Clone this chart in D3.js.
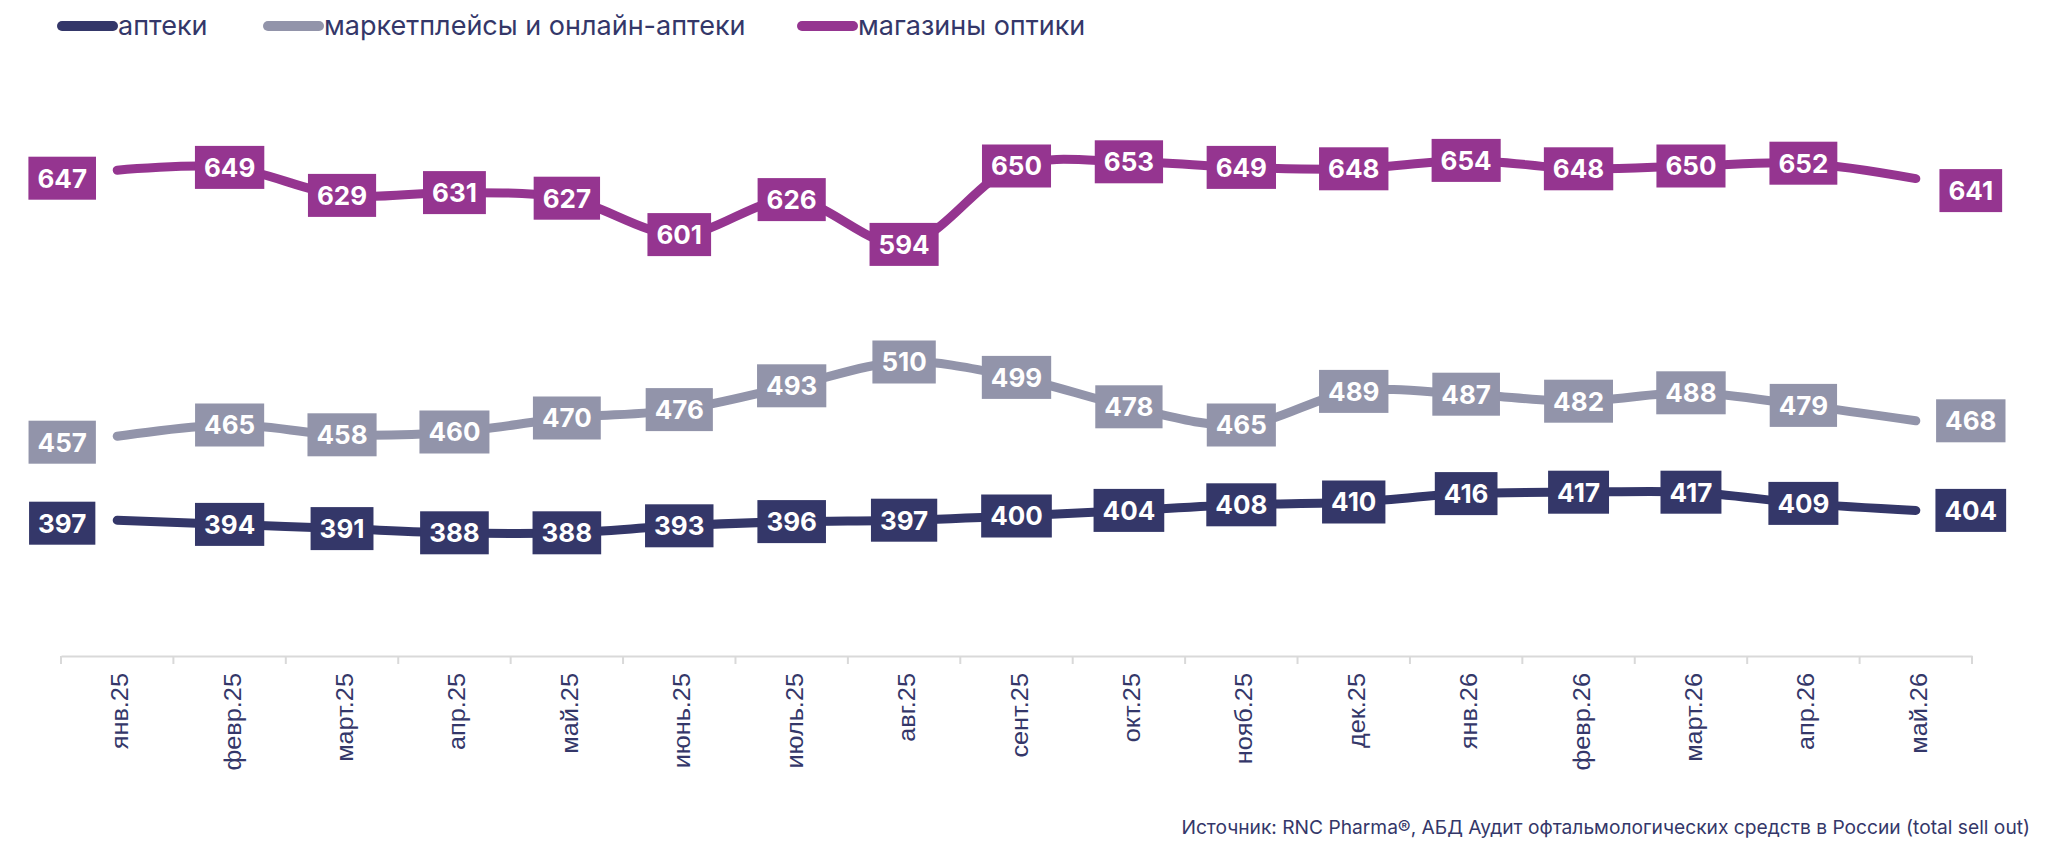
<!DOCTYPE html>
<html>
<head>
<meta charset="utf-8">
<script src="https://cdn.jsdelivr.net/npm/d3@7"></script>
<style>
  body { margin: 0; background: #fff; }
  svg { display: block; }
</style>
</head>
<body>
<svg id="chart"></svg>
<script>
const navy = "#343769";

// Data
const months = ["янв.25", "февр.25", "март.25", "апр.25", "май.25", "июнь.25", "июль.25", "авг.25",
  "сент.25", "окт.25", "нояб.25", "дек.25", "янв.26", "февр.26", "март.26", "апр.26", "май.26"];
const seriesNames = ["аптеки", "маркетплейсы и онлайн-аптеки", "магазины оптики"];
const pharmacies = [397, 394, 391, 388, 388, 393, 396, 397, 400, 404, 408, 410, 416, 417, 417, 409, 404];
const marketplaces = [457, 465, 458, 460, 470, 476, 493, 510, 499, 478, 465, 489, 487, 482, 488, 479, 468];
const optics = [647, 649, 629, 631, 627, 601, 626, 594, 650, 653, 649, 648, 654, 648, 650, 652, 641];
const seriesColors = ["#343769", "#9294aa", "#953590"];
const source = "Источник: RNC Pharma®, АБД Аудит офтальмологических средств в России (total sell out)";

const W = 2048, H = 865;
const plot = { left: 61, right: 1972, top: 96, bottom: 656 };

const svg = d3.select("#chart").attr("width", W).attr("height", H);

const series = [pharmacies, marketplaces, optics].map((values, i) => ({
  name: seriesNames[i], color: seriesColors[i], values
}));

// Scales
const x = d3.scaleBand().domain(months).range([plot.left, plot.right]).padding(0);
const y = d3.scaleLinear().domain([300, 700]).range([plot.bottom, plot.top]);
const cx = m => x(m) + x.bandwidth() / 2;

// X axis
const xAxis = svg.append("g")
  .attr("transform", `translate(0,${plot.bottom})`)
  .call(d3.axisBottom(x).tickSize(0).tickFormat(""));
xAxis.select(".domain").attr("stroke", "#d9d9d9").attr("stroke-width", 2);

// tick marks at band edges
svg.append("g").selectAll("line")
  .data(months.map(m => x(m)).concat([plot.right]))
  .join("line")
  .attr("x1", d => d).attr("x2", d => d)
  .attr("y1", plot.bottom).attr("y2", plot.bottom + 8)
  .attr("stroke", "#d9d9d9").attr("stroke-width", 2);

svg.append("g").selectAll("text")
  .data(months)
  .join("text")
  .attr("transform", d => `translate(${cx(d) + 11},${plot.bottom + 17}) rotate(-90) scale(1.1,1)`)
  .attr("text-anchor", "end")
  .style("font-family", "'Liberation Sans', Arial, sans-serif")
  .style("font-size", "23px")
  .attr("fill", navy)
  .text(d => d);

// Lines
const line = d3.line()
  .x((d, i) => cx(months[i]))
  .y(d => y(d))
  .curve(d3.curveCatmullRom.alpha(0.5));

svg.append("g").selectAll("path")
  .data(series)
  .join("path")
  .attr("d", d => line(d.values))
  .attr("fill", "none")
  .attr("stroke", d => d.color)
  .attr("stroke-width", 9)
  .attr("stroke-linecap", "round")
  .attr("stroke-linejoin", "round");

// Data labels
const last = months.length - 1;
const labelNudge = { "2-16": 12, "2-0": 8, "1-0": 6, "0-0": 3 };

series.forEach((s, si) => {
  const g = svg.append("g");
  s.values.forEach((v, i) => {
    let lx = cx(months[i]);
    let ly = y(v) + (labelNudge[`${si}-${i}`] || 0);
    if (i === 0) lx -= 55;
    if (i === last) lx += 55;
    const lg = g.append("g").attr("transform", `translate(${lx},${ly})`);
    const rect = lg.append("rect").attr("fill", s.color);
    const t = lg.append("text")
      .attr("text-anchor", "middle")
      .attr("dy", "0.36em")
      .style("font-family", "Inter, 'Noto Sans', sans-serif")
      .style("font-weight", "700")
      .style("font-size", "26px")
      .attr("fill", "#fff")
      .text(v);
    const w = t.node().getComputedTextLength() + 18;
    rect.attr("x", -w / 2).attr("y", -21.5).attr("width", w).attr("height", 43);
  });
});

// Legend
const legendX = [57, 263, 797];
const legend = svg.append("g");
series.forEach((s, i) => {
  const g = legend.append("g").attr("transform", `translate(${legendX[i]},26)`);
  g.append("line")
    .attr("x1", 5).attr("x2", 56)
    .attr("stroke", s.color)
    .attr("stroke-width", 10)
    .attr("stroke-linecap", "round");
  g.append("text")
    .attr("x", 61)
    .attr("y", 9)
    .style("font-family", "Inter, 'Noto Sans', sans-serif")
    .style("font-size", "27px")
    .attr("fill", navy)
    .text(s.name);
});

// Source
svg.append("text")
  .attr("x", 2030)
  .attr("y", 834)
  .attr("text-anchor", "end")
  .style("font-family", "Inter, 'Noto Sans', sans-serif")
  .style("font-size", "19.2px")
  .attr("fill", navy)
  .text(source);
</script>
</body>
</html>
